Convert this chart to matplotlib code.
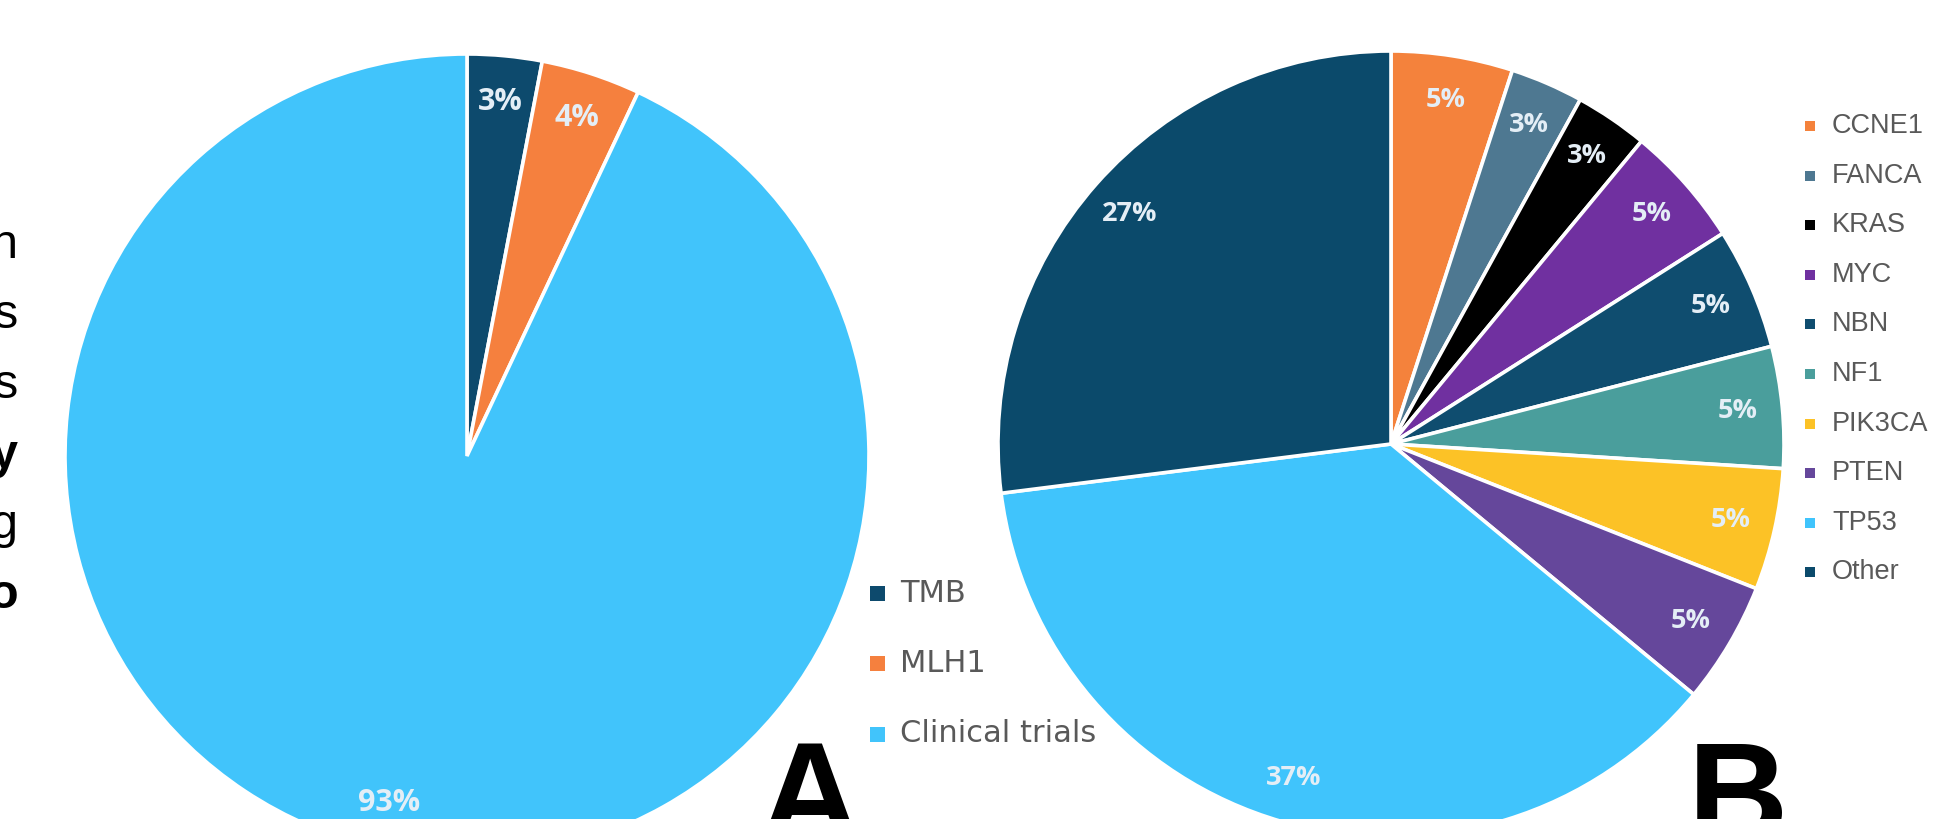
import matplotlib
matplotlib.use("Agg")
import matplotlib.pyplot as plt
from matplotlib.patches import Rectangle

W, H = 1944, 819

# Panel A: routes to treatment
a_labels = ["TMB", "MLH1", "Clinical trials"]
a_values = [3, 4, 93]
a_colors = ["#0D4A6D", "#F5803E", "#41C4FB"]

# Panel B: altered genes
b_labels = ["CCNE1", "FANCA", "KRAS", "MYC", "NBN", "NF1", "PIK3CA", "PTEN", "TP53", "Other"]
b_values = [5, 3, 3, 5, 5, 5, 5, 5, 37, 27]
b_colors = ["#F4823C", "#4E7891", "#000000", "#7030A0", "#0F4D6F",
            "#4A9E9C", "#FCC226", "#65479B", "#40C4FC", "#0B4A6B"]

# Letters from the neighbouring text column, clipped at the left edge
edge_letters = ["n", "s", "s", "y", "g", "o"]
edge_bold = [False, False, False, True, False, True]

fig = plt.figure(figsize=(W / 100, H / 100), dpi=100)
fig.patch.set_facecolor("white")


def pie_axes(cx, cy, r):
    ax = fig.add_axes([(cx - r) / W, (H - cy - r) / H, 2 * r / W, 2 * r / H])
    ax.set_axis_off()
    return ax


def draw_pie(ax, values, colors, fontsize, txtcolor):
    wedges, texts, autotexts = ax.pie(
        values, colors=colors, startangle=90, counterclock=False,
        radius=1.0, autopct=lambda p: f"{p:.0f}%", pctdistance=0.885,
        wedgeprops=dict(edgecolor="white", linewidth=2.6),
        textprops=dict(color=txtcolor, fontsize=fontsize, fontweight="bold",
                       family="Open Sans"))
    ax.set_xlim(-1, 1)
    ax.set_ylim(-1, 1)
    return wedges


axA = pie_axes(467, 456, 402)
draw_pie(axA, a_values, a_colors, 22, "#E4EEF6")

axB = pie_axes(1391, 444, 393)
draw_pie(axB, b_values, b_colors, 19.5, "#E4EEF6")


def legend(items, colors, x_sq, y0, dy, sq, fs, family, x_txt):
    for i, (lab, c) in enumerate(zip(items, colors)):
        y = y0 + i * dy
        fig.patches.append(Rectangle((x_sq / W, (H - y - sq / 2) / H), sq / W, sq / H,
                                     transform=fig.transFigure, facecolor=c,
                                     edgecolor="none"))
        fig.text(x_txt / W, (H - y) / H, lab, fontsize=fs,
                 color="#595959", family=family, va="center", ha="left")


legend(a_labels, a_colors, 870, 593, 70.5, 15, 22, "DejaVu Sans", 900)
legend(b_labels, b_colors, 1805, 126, 49.6, 10, 19.5, "Liberation Sans", 1832)

# Panel letters (baseline sits below the bottom edge)
fig.text(810 / W, (H - 840) / H, "A", fontsize=100, fontweight="bold",
         family="Liberation Sans", ha="center", va="baseline", color="black")
fig.text(1738 / W, (H - 840) / H, "B", fontsize=100, fontweight="bold",
         family="Liberation Sans", ha="center", va="baseline", color="black")

for i, (ch, bold) in enumerate(zip(edge_letters, edge_bold)):
    y = 246 + i * 70
    fig.text(18 / W, (H - y) / H, ch, fontsize=35,
             fontweight="bold" if bold else "normal",
             family="Liberation Sans", ha="right", va="center", color="black")

fig.savefig("out.png", dpi=100, facecolor="white")
